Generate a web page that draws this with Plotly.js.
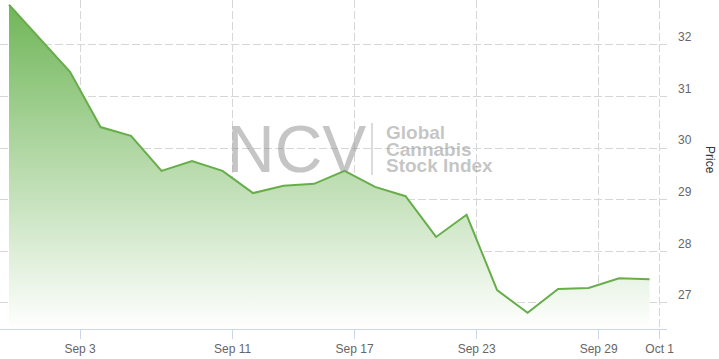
<!DOCTYPE html>
<html>
<head>
<meta charset="utf-8">
<script src="https://cdn.plot.ly/plotly-3.0.1.min.js"></script>
<style>
html,body{margin:0;padding:0;background:#fff;}
#chart{width:719px;height:359px;}
</style>
</head>
<body>
<div id="chart"></div>
<script>
// Trading sessions (one point per session, evenly spaced like an ordinal axis)
const sessions = ["Aug 29","Aug 30","Sep 3","Sep 4","Sep 5","Sep 6","Sep 9","Sep 11",
  "Sep 12","Sep 13","Sep 16","Sep 17","Sep 18","Sep 19","Sep 20","Sep 23",
  "Sep 24","Sep 25","Sep 26","Sep 27","Sep 30","Oct 1"];
const prices = [32.78, 32.12, 31.48, 30.41, 30.24, 29.56, 29.75, 29.56,
  29.13, 29.27, 29.31, 29.56, 29.25, 29.07, 28.28, 28.71,
  27.25, 26.81, 27.27, 27.29, 27.48, 27.46];
const tickLabels = ["Sep 3","Sep 11","Sep 17","Sep 23","Sep 29","Oct 1"];
const yTicks = [27, 28, 29, 30, 31, 32];
const watermarkLines = ["Global", "Cannabis", "Stock Index"];

const xIdx = sessions.map((_, i) => i);
const Y0 = 26.496, Y1 = 32.872;

const FONT = '"Liberation Sans", Arial, Helvetica, sans-serif';

const trace = {
  type: 'scatter',
  mode: 'lines',
  x: xIdx,
  y: prices,
  text: sessions,
  hovertemplate: '%{text}: %{y:.2f}<extra></extra>',
  line: {color: '#67ae4b', width: 2},
  fill: 'tozeroy',
  fillgradient: {
    type: 'vertical',
    start: Y0,
    stop: Y1,
    colorscale: [[0, 'rgb(255,255,255)'], [1, 'rgb(110,181,86)']]
  }
};

const W = 667, H = 329; // plot area in px
const px = v => v / W;
const py = v => (H - v) / H;

const wm = 'rgba(140,140,140,0.5)';
const annotations = [
  {text: 'Price', xref: 'paper', yref: 'paper', x: px(710), y: py(160),
   xanchor: 'center', yanchor: 'middle', showarrow: false, textangle: 90,
   font: {family: FONT, size: 12, color: '#333'}},
  {text: 'NCV', xref: 'paper', yref: 'paper', x: px(296), y: py(149),
   xanchor: 'center', yanchor: 'middle', showarrow: false,
   font: {family: FONT, size: 66, color: wm}},
  // three tight lines in one text: line pitch from the small base size, glyphs at 19px
  {text: watermarkLines.map(t => '<span style="font-size:19px"><b>' + t + '</b></span>').join('<br>'),
   xref: 'paper', yref: 'paper', x: px(384), y: py(149),
   xanchor: 'left', yanchor: 'middle', align: 'left', showarrow: false,
   font: {family: FONT, size: 12.7, color: wm}}
];

const layout = {
  width: 719, height: 359,
  margin: {l: 0, r: 52, t: 0, b: 30},
  paper_bgcolor: '#fff', plot_bgcolor: '#fff',
  showlegend: false,
  font: {family: FONT, size: 12, color: '#666'},
  xaxis: {
    range: [-0.295, 21.57],
    tickmode: 'array',
    tickvals: [2.33, 7.33, 11.33, 15.33, 19.33, 21.33],
    ticktext: tickLabels,
    showgrid: true, gridcolor: '#d6d6d6', griddash: '8px,3px', gridwidth: 1,
    showline: true, linecolor: '#ccd6eb', linewidth: 1,
    ticks: 'outside', ticklen: 9, tickcolor: '#ccd6eb', tickwidth: 1,
    tickfont: {family: FONT, size: 12, color: '#666'},
    zeroline: false, fixedrange: true
  },
  yaxis: {
    side: 'right',
    range: [Y0, Y1],
    tickmode: 'array',
    tickvals: yTicks,
    ticktext: yTicks.map(String),
    showgrid: true, gridcolor: '#d6d6d6', griddash: '8px,3px', gridwidth: 1,
    showline: false, zeroline: false, ticks: '',
    ticklabelshift: -8, ticklabelstandoff: 10,
    tickfont: {family: FONT, size: 12, color: '#666'},
    fixedrange: true
  },
  annotations: annotations,
  shapes: [
    {type: 'line', xref: 'paper', yref: 'paper', x0: px(372), x1: px(372),
     y0: py(175), y1: py(123), line: {color: 'rgba(160,160,160,0.5)', width: 1.5}}
  ]
};

Plotly.newPlot('chart', [trace], layout, {displayModeBar: false, staticPlot: true});
</script>
</body>
</html>
